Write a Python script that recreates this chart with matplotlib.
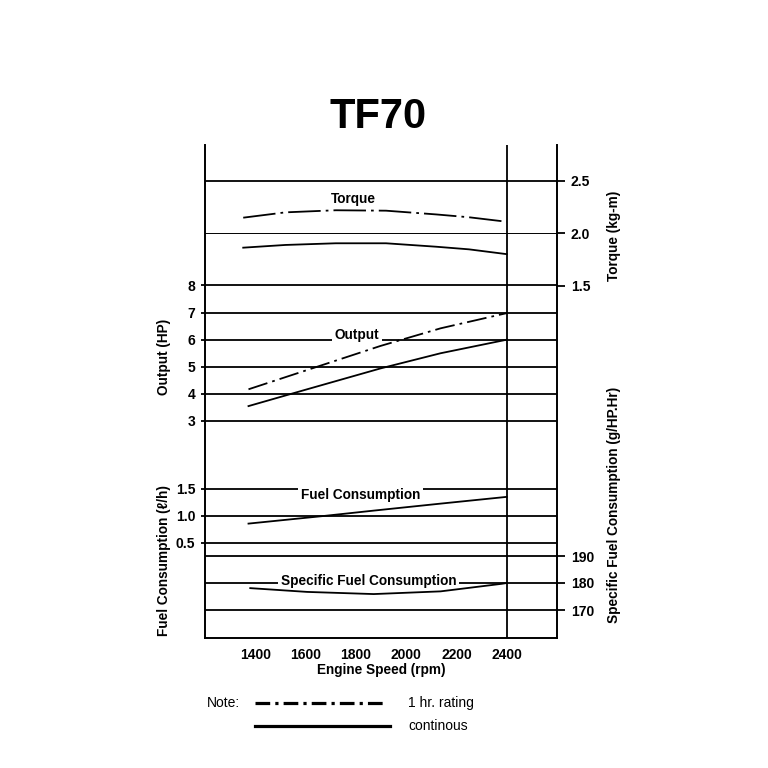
import matplotlib
matplotlib.use("Agg")
from matplotlib import pyplot as plt
from matplotlib.lines import Line2D

plt.rcParams['font.family'] = ['Liberation Sans', 'DejaVu Sans']

# engine speed (rpm) sample points
rpm_torque = [1352, 1520, 1720, 1920, 2120, 2250, 2400]
torque_1hr = [2.149, 2.20, 2.22, 2.216, 2.18, 2.153, 2.11]
torque_cont = [1.862, 1.888, 1.904, 1.904, 1.871, 1.846, 1.80]

rpm_output = [1373, 1606, 1898, 2137, 2400]
output_1hr = [4.17, 4.88, 5.77, 6.42, 6.98]
output_cont = [3.55, 4.17, 4.94, 5.50, 6.0]

rpm_fuel = [1373, 1670, 1870, 2137, 2400]
fuel_cont = [0.85, 0.99, 1.09, 1.22, 1.345]

rpm_sfc = [1380, 1606, 1871, 2137, 2380, 2400]
sfc_cont = [178.1, 176.7, 175.9, 176.9, 179.7, 180.0]

x_ticks = [1400, 1600, 1800, 2000, 2200, 2400]
torque_ticks = [1.5, 2.0, 2.5]
output_ticks = [3, 4, 5, 6, 7, 8]
fuel_ticks = [0.5, 1.0, 1.5]
sfc_ticks = [170, 180, 190]

# layout (pixels in a 768x768 figure)
W = 768.0
AX_L, AX_R, AX_T, AX_B = 205, 557, 145, 638

TQ_DASHDOT = (0, (18, 2.8, 1.5, 2.8))
OUT_DASHDOT = (0, (11, 2.8, 1.5, 2.8))
TICKFONT = dict(fontsize=10, fontweight='bold')
BOLD = dict(fontsize=9.8, fontweight='bold')


def fy(px):
    return 1 - px / W


def limits(v_top, px_top, v_bot, px_bot):
    # value per pixel, mapped to the axes top/bottom edge
    s = (v_bot - v_top) / (px_bot - px_top)
    return v_bot + s * (AX_B - px_bot), v_top + s * (AX_T - px_top)


fig = plt.figure(figsize=(7.68, 7.68), dpi=100)
ax = fig.add_axes([AX_L / W, fy(AX_B), (AX_R - AX_L) / W, (AX_B - AX_T) / W])
ax.set_xlim(1200, 2600)
ax.set_ylim(0, 1)
ax.set_yticks([])
ax.set_xticks(x_ticks)
ax.set_xticklabels([str(t) for t in x_ticks], **TICKFONT)
ax.tick_params(axis='x', length=0, pad=7)
ax.spines['top'].set_visible(False)
for s in ['left', 'right', 'bottom']:
    ax.spines[s].set_linewidth(1.4)
ax.axvline(2400, color='black', lw=1.3)
ax.set_xlabel("Engine Speed (rpm)", **BOLD)
ax.xaxis.set_label_coords(0.5, -0.05)

# one twin axis per scale
scales = [
    ('torque', 'right', torque_ticks, limits(2.5, 181, 1.5, 285.5)),
    ('output', 'left', output_ticks, limits(8, 285.5, 3, 421)),
    ('fuel', 'left', fuel_ticks, limits(1.5, 488.5, 0.5, 542.5)),
    ('sfc', 'right', sfc_ticks, limits(190, 556, 170, 610)),
]
axes = {}
for name, side, ticks, lim in scales:
    a = ax.twinx()
    a.set_ylim(*lim)
    for s in a.spines.values():
        s.set_visible(False)
    a.set_yticks(ticks)
    if name in ('torque', 'fuel'):
        labels = [f"{t:.1f}" for t in ticks]
    else:
        labels = [str(t) for t in ticks]
    a.set_yticklabels(labels, **TICKFONT)
    a.yaxis.set_ticks_position(side)
    a.yaxis.set_label_position(side)
    a.tick_params(axis='y', length=6 if side == 'right' else 3,
                  width=1.3, pad=4)
    for t in ticks:
        if name == 'torque' and t == 1.5:
            continue  # same line as output 8
        lw = 0.7 if (name == 'torque' and t == 2.0) else 1.3
        a.axhline(t, color='black', lw=lw, zorder=1)
    axes[name] = a

axes['torque'].plot(rpm_torque, torque_1hr, color='black', lw=1.3,
                    linestyle=TQ_DASHDOT, zorder=4)
axes['torque'].plot(rpm_torque, torque_cont, color='black', lw=1.3, zorder=4)
axes['output'].plot(rpm_output, output_1hr, color='black', lw=1.3,
                    linestyle=OUT_DASHDOT, zorder=4)
axes['output'].plot(rpm_output, output_cont, color='black', lw=1.3, zorder=4)
axes['fuel'].plot(rpm_fuel, fuel_cont, color='black', lw=1.3, zorder=4)
axes['sfc'].plot(rpm_sfc, sfc_cont, color='black', lw=1.3, zorder=4)

box = dict(facecolor='white', edgecolor='none', pad=2)
axes['torque'].text(1790, 2.33, "Torque", ha='center', va='center', **BOLD)
axes['output'].text(1805, 6.18, "Output", ha='center', va='center',
                    bbox=box, zorder=3, **BOLD)
axes['fuel'].text(1820, 1.38, "Fuel Consumption", ha='center', va='center',
                  bbox=box, zorder=3, **BOLD)
axes['sfc'].text(1850, 180.9, "Specific Fuel Consumption", ha='center',
                 va='center', bbox=box, zorder=3, **BOLD)

axes['torque'].set_ylabel("Torque (kg-m)", **BOLD)
axes['torque'].yaxis.set_label_coords(1.141, 0.815)
axes['output'].set_ylabel("Output (HP)", **BOLD)
axes['output'].yaxis.set_label_coords(-0.097, 0.57)
axes['fuel'].set_ylabel("Fuel Consumption (\u2113/h)", **BOLD)
axes['fuel'].yaxis.set_label_coords(-0.097, 0.158)
axes['sfc'].set_ylabel("Specific Fuel Consumption (g/HP.Hr)", **BOLD)
axes['sfc'].yaxis.set_label_coords(1.143, 0.27)

fig.text(378 / W, fy(117), "TF70", ha='center', va='center',
         fontsize=30, fontweight='bold')

# note / legend below the chart
fig.text(207 / W, fy(703), "Note:", ha='left', va='center', fontsize=10)
fig.add_artist(Line2D([255 / W, 383 / W], [fy(703), fy(703)], color='black',
                      lw=2.3, linestyle=(0, (4.6, 1.6, 1.0, 1.6)),
                      transform=fig.transFigure))
fig.add_artist(Line2D([255 / W, 390 / W], [fy(726), fy(726)], color='black',
                      lw=2.3, transform=fig.transFigure))
fig.text(408 / W, fy(703), "1 hr. rating", ha='left', va='center', fontsize=10)
fig.text(408 / W, fy(726), "continous", ha='left', va='center', fontsize=10)

fig.savefig("out.png", dpi=100, facecolor='white')
